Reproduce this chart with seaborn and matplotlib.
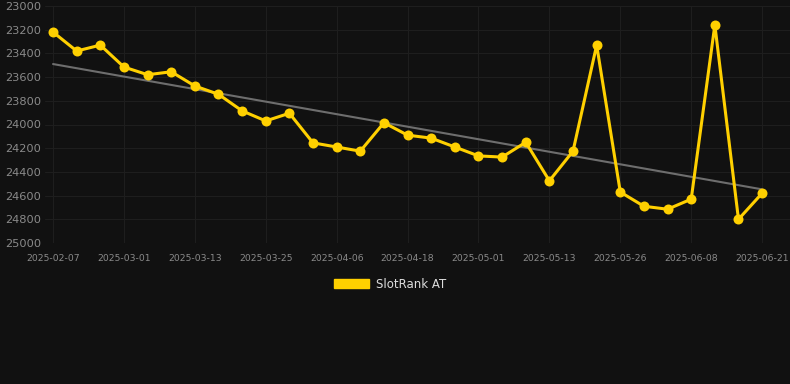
import numpy as np
import pandas as pd
import matplotlib
matplotlib.use("Agg")
import matplotlib.pyplot as plt
import seaborn as sns
from matplotlib.patches import Patch

# ---- data ----
tick_labels = ["2025-02-07", "2025-03-01", "2025-03-13", "2025-03-25", "2025-04-06",
               "2025-04-18", "2025-05-01", "2025-05-13", "2025-05-26", "2025-06-08",
               "2025-06-21"]
ranks = [23220, 23380, 23330, 23515, 23580, 23555, 23675, 23745, 23885, 23970,
         23905, 24155, 24190, 24225, 23985, 24090, 24115, 24190, 24265, 24275,
         24150, 24475, 24225, 23330, 24570, 24690, 24715, 24630, 23160, 24800,
         24580]
series_name = "SlotRank AT"
y_ticks = [23000, 23200, 23400, 23600, 23800, 24000, 24200, 24400, 24600, 24800, 25000]

idx = np.arange(len(ranks))
df = pd.DataFrame({"idx": idx, "rank": ranks, "series": series_name})

BG = "#111111"
GOLD = "#FFD000"

sns.set_theme(style="dark")
plt.rcParams["font.family"] = ["DejaVu Sans"]

fig = plt.figure(figsize=(7.9, 3.84), dpi=100, facecolor=BG)
ax = fig.add_axes([45 / 790, (384 - 243) / 384, 1 - 45 / 790, (243 - 6) / 384])
ax.set_facecolor(BG)

# trend line (least squares)
coef = np.polyfit(idx, ranks, 1)
trend = np.polyval(coef, idx)
sns.lineplot(x=idx, y=trend, ax=ax, color="#6e6e6e", linewidth=1.5, legend=False, zorder=2)

sns.lineplot(data=df, x="idx", y="rank", hue="series", palette=[GOLD], ax=ax,
             linewidth=2.2, marker="o", markersize=7.2, markeredgewidth=0,
             zorder=3, legend=False)
for ln in ax.lines[1:]:
    ln.set_solid_joinstyle("miter")

ax.set_xlim(-0.34, 31.18)
ax.set_ylim(25000, 23000)
ax.set_yticks(y_ticks)
ax.set_yticklabels([str(v) for v in y_ticks])
ax.set_xticks(idx[::3])
ax.set_xticklabels(tick_labels)

ax.grid(True, color="#1e1e1e", linewidth=0.8)
for s in ax.spines.values():
    s.set_visible(False)
ax.tick_params(axis="y", colors="#8a8a8a", labelsize=8.2, length=0, pad=3)
ax.tick_params(axis="x", colors="#8a8a8a", labelsize=6.7, length=0, pad=8)
ax.set_xlabel("")
ax.set_ylabel("")

# legend
handles = [Patch(facecolor=GOLD, edgecolor=GOLD, label=series_name)]
leg = fig.legend(handles=handles, loc="center", bbox_to_anchor=(390 / 790, 1 - 284 / 384),
                 frameon=False, fontsize=8.5, handlelength=3.0, handleheight=0.9,
                 handletextpad=0.6)
for t in leg.get_texts():
    t.set_color("#dddddd")

fig.savefig("out.png", dpi=100, facecolor=BG)
